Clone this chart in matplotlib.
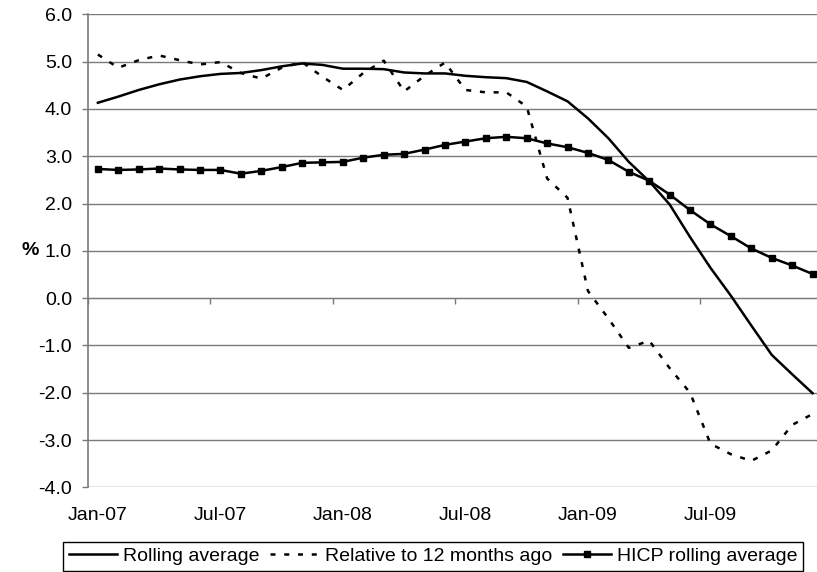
import numpy as np
import matplotlib
matplotlib.use("Agg")
import matplotlib.pyplot as plt

# ---------------------------- datos (Jan-07 .. Dec-09) ----------------------------
rolling = [4.13, 4.26, 4.40, 4.52, 4.62, 4.69, 4.74, 4.76, 4.82, 4.90, 4.96, 4.93,
           4.85, 4.85, 4.84, 4.77, 4.75, 4.75, 4.70, 4.67, 4.65, 4.57, 4.37, 4.16,
           3.80, 3.38, 2.88, 2.47, 1.98, 1.29, 0.64, 0.05, -0.58, -1.20, -1.61, -2.01]
relative = [5.15, 4.87, 5.03, 5.13, 5.03, 4.94, 4.99, 4.76, 4.64, 4.87, 4.99, 4.68,
            4.40, 4.76, 5.02, 4.37, 4.70, 4.98, 4.40, 4.35, 4.35, 4.05, 2.53, 2.12,
            0.15, -0.43, -1.05, -0.90, -1.48, -2.00, -3.08, -3.30, -3.44, -3.22, -2.68, -2.45]
hicp = [2.73, 2.71, 2.72, 2.74, 2.72, 2.71, 2.71, 2.63, 2.69, 2.77, 2.86, 2.87,
        2.88, 2.97, 3.03, 3.05, 3.14, 3.24, 3.31, 3.38, 3.41, 3.38, 3.27, 3.19,
        3.07, 2.92, 2.67, 2.48, 2.19, 1.86, 1.56, 1.31, 1.05, 0.85, 0.69, 0.51]
xlabels = ['Jan-07', 'Jul-07', 'Jan-08', 'Jul-08', 'Jan-09', 'Jul-09']
yvals = [-4.0, -3.0, -2.0, -1.0, 0.0, 1.0, 2.0, 3.0, 4.0, 5.0, 6.0]

plt.rcParams['font.family'] = ['Liberation Sans', 'DejaVu Sans']
plt.rcParams['font.size'] = 14
gris = '#7a7a7a'

x = np.arange(len(rolling))
fig = plt.figure(figsize=(8.17, 5.72), dpi=100)
ax = fig.add_axes([0.1073, 0.148, 0.8998, 0.827])

ax.plot(x, rolling, color='black', linewidth=1.8, label='Rolling average')
ax.plot(x, relative, color='black', linewidth=1.8, dashes=(2, 3.5),
        label='Relative to 12 months ago')
ax.plot(x, hicp, color='black', linewidth=1.8, marker='s', markersize=5,
        label='HICP rolling average')

ax.set_xlim(-0.5, 35.5)
ax.set_ylim(-4, 6)
ax.set_yticks(yvals)
ax.set_yticklabels(['%.1f' % v for v in yvals])
ax.grid(axis='y', color=gris, linewidth=1)
ax.set_axisbelow(True)
for s in ['top', 'right', 'bottom']:
    ax.spines[s].set_visible(False)
ax.spines['left'].set_color(gris)
ax.spines['left'].set_linewidth(1.2)
ax.tick_params(axis='y', direction='out', length=4.3, width=1, color=gris, pad=7)

# etiquetas del eje x abajo, marcas sobre la linea del cero
ax.set_xticks(np.arange(0, 36, 6))
ax.set_xticklabels(xlabels)
ax.tick_params(axis='x', length=0, pad=14)
sec = ax.secondary_xaxis(0.4)
sec.set_xticks(np.arange(-0.5, 36, 6))
sec.set_xticklabels([])
sec.spines['bottom'].set_color(gris)
sec.tick_params(direction='out', length=4.3, width=1, color=gris)

ax.set_ylabel('%', rotation=0, fontweight='bold', ha='center', va='center')
ax.yaxis.set_label_coords(-0.0785, 0.5)

leg = fig.legend(loc='lower center', bbox_to_anchor=(0.53, 0.0), ncol=3,
                 frameon=True, fancybox=False, edgecolor='black', framealpha=1,
                 handlelength=2.5, handletextpad=0.3, columnspacing=0.55,
                 borderpad=0.3, borderaxespad=0.05)
leg.get_frame().set_linewidth(1)

fig.savefig('out.png', dpi=100)
